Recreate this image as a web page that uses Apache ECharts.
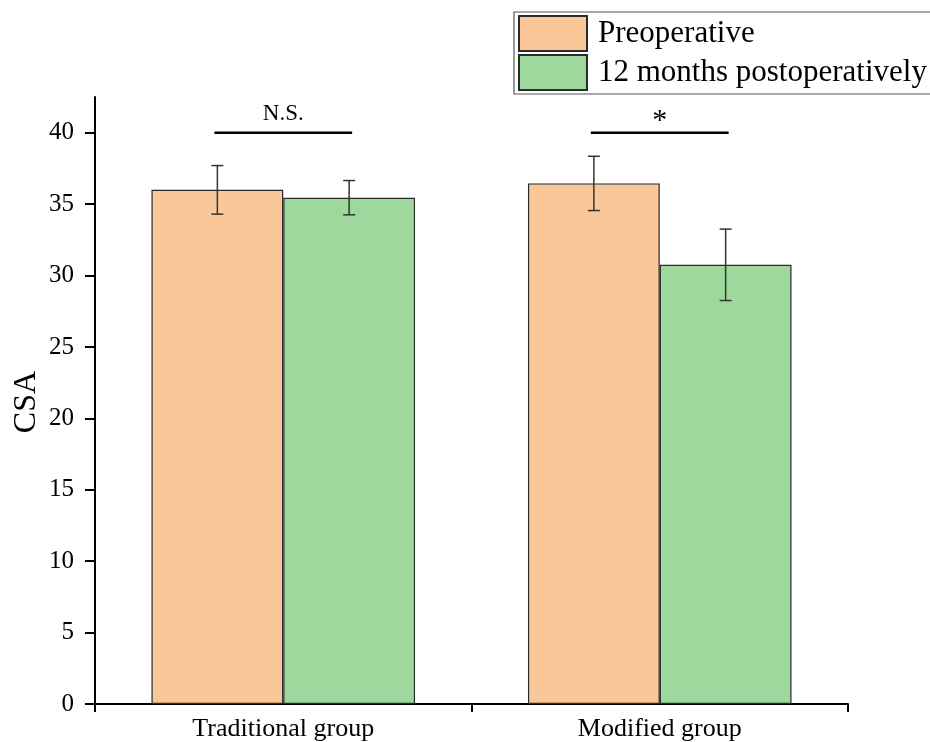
<!DOCTYPE html>
<html>
<head>
<meta charset="utf-8">
<script src="https://cdn.jsdelivr.net/npm/echarts@6/dist/echarts.min.js"></script>
<style>html,body{margin:0;padding:0;background:#fff;}#c{width:930px;height:742px;}</style>
</head>
<body>
<div id="c"></div>
<script>
var categories = ['Traditional group', 'Modified group'];
var seriesNames = ['Preoperative', '12 months postoperatively'];
var preop = [36.0, 36.45];
var postop = [35.45, 30.75];
var preopErr = [1.7, 1.9];
var postopErr = [1.2, 2.5];
var sigLabels = ['N.S.', '*'];
var sigLevel = [40, 40];
var yTicks = [0, 5, 10, 15, 20, 25, 30, 35, 40];
var yAxisTitle = 'CSA';

var FONT = '"Liberation Serif", "Times New Roman", serif';
var chart = echarts.init(document.getElementById('c'));

function errData(vals, errs) {
  return vals.map(function (v, i) { return [i, v - errs[i], v + errs[i]]; });
}
function errRenderer(offsetFrac) {
  return function (params, api) {
    var x = api.value(0);
    var lo = api.coord([x, api.value(1)]);
    var hi = api.coord([x, api.value(2)]);
    var band = api.size([1, 0])[0];
    var cx = lo[0] + offsetFrac * band;
    var cap = 6;
    var st = { stroke: '#333', lineWidth: 1.5 };
    return {
      type: 'group',
      children: [
        { type: 'line', shape: { x1: cx, y1: lo[1], x2: cx, y2: hi[1] }, style: st },
        { type: 'line', shape: { x1: cx - cap, y1: lo[1], x2: cx + cap, y2: lo[1] }, style: st },
        { type: 'line', shape: { x1: cx - cap, y1: hi[1], x2: cx + cap, y2: hi[1] }, style: st }
      ]
    };
  };
}
var sigData = sigLabels.map(function (s, i) { return [i, sigLevel[i], s]; });

chart.setOption({
  animation: false,
  backgroundColor: '#fff',
  textStyle: { fontFamily: FONT },
  grid: { left: 95, right: 82, top: 97, bottom: 38, containLabel: false, outerBoundsMode: 'none' },
  graphic: [{
    type: 'text', rotation: Math.PI / 2,
    x: 27, y: 402,
    style: { text: yAxisTitle, fill: '#000', font: '32px ' + FONT, align: 'center', verticalAlign: 'middle' }
  }],
  legend: {
    orient: 'vertical',
    left: 514,
    top: 12,
    padding: [3, 4, 3, 4],
    itemGap: 2,
    itemWidth: 68,
    itemHeight: 35,
    borderColor: '#555',
    borderWidth: 1.2,
    icon: 'rect',
    data: seriesNames,
    textStyle: { fontFamily: FONT, fontSize: 31, lineHeight: 34, color: '#000', padding: [0, 0, 0, 6] }
  },
  xAxis: {
    type: 'category',
    data: categories,
    axisLine: { lineStyle: { color: '#000', width: 2 } },
    axisTick: { show: true, length: 8, lineStyle: { color: '#000', width: 2 } },
    axisLabel: { fontFamily: FONT, fontSize: 26, color: '#000', margin: 12 }
  },
  yAxis: {
    type: 'value',
    min: 0,
    max: 42.5,
    interval: 5,
    axisLine: { show: true, lineStyle: { color: '#000', width: 2 } },
    axisTick: { show: true, length: 10, customValues: yTicks, lineStyle: { color: '#000', width: 2 } },
    axisLabel: { fontFamily: FONT, fontSize: 25, color: '#000', margin: 21, customValues: yTicks },
    splitLine: { show: false }
  },
  series: [
    {
      name: seriesNames[0], type: 'bar', data: preop, barGap: '0%', barCategoryGap: '30%',
      itemStyle: { color: '#FAC898', borderColor: '#2a2a2a', borderWidth: 1.2 }
    },
    {
      name: seriesNames[1], type: 'bar', data: postop, barGap: '0%', barCategoryGap: '30%',
      itemStyle: { color: '#9ED89C', borderColor: '#2a2a2a', borderWidth: 1.2 }
    },
    {
      type: 'custom', renderItem: errRenderer(-0.175), data: errData(preop, preopErr),
      encode: { x: 0, y: [1, 2] }, z: 5, silent: true
    },
    {
      type: 'custom', renderItem: errRenderer(0.175), data: errData(postop, postopErr),
      encode: { x: 0, y: [1, 2] }, z: 5, silent: true
    },
    {
      type: 'custom', z: 5, silent: true, data: sigData,
      encode: { x: 0, y: 1 },
      renderItem: function (params, api) {
        var p = api.coord([api.value(0), api.value(1)]);
        var band = api.size([1, 0])[0];
        var hw = 0.183 * band;
        var label = sigLabels[params.dataIndex];
        var isStar = label === '*';
        return {
          type: 'group',
          children: [
            { type: 'line', shape: { x1: p[0] - hw, y1: p[1], x2: p[0] + hw, y2: p[1] }, style: { stroke: '#000', lineWidth: 2.5 } },
            { type: 'text', x: p[0], y: p[1] - (isStar ? 12 : 19),
              style: { text: label, fill: '#000', font: (isStar ? '30px ' : '23px ') + FONT, align: 'center', verticalAlign: 'middle' } }
          ]
        };
      }
    }
  ]
});
</script>
</body>
</html>
